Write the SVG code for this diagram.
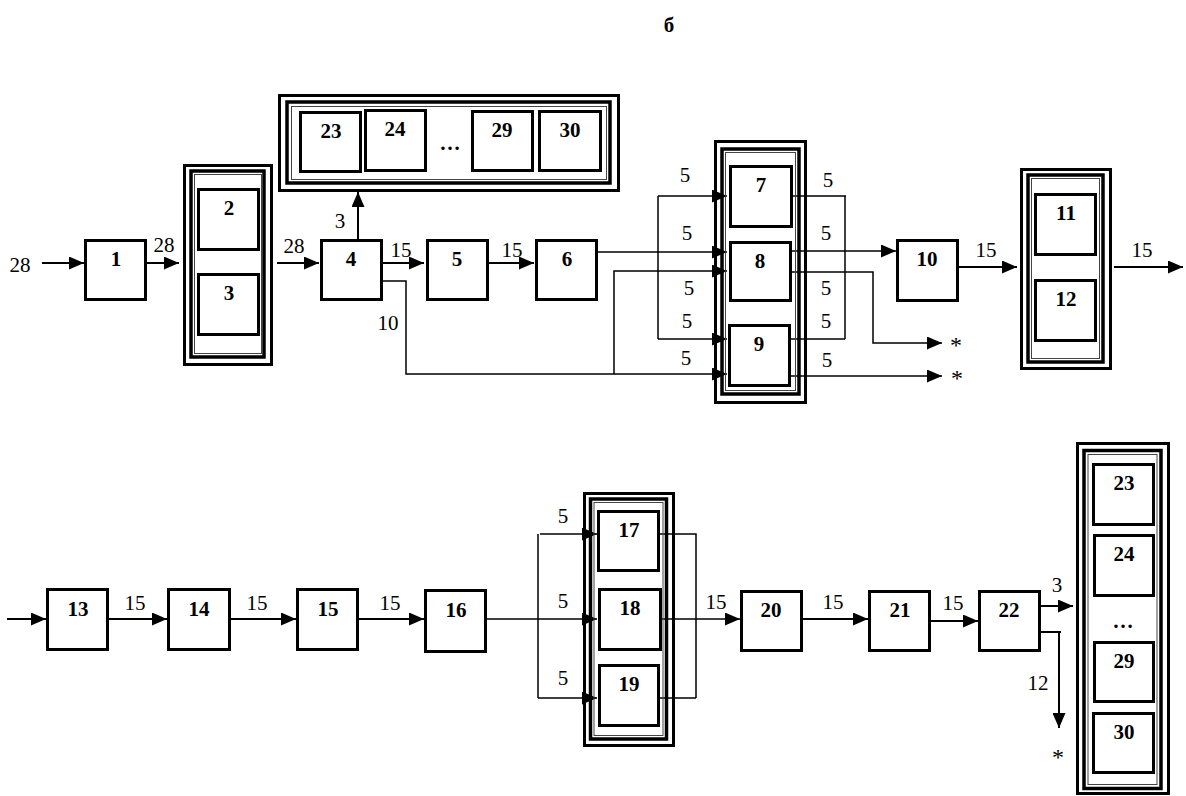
<svg xmlns="http://www.w3.org/2000/svg" width="1186" height="796" viewBox="0 0 1186 796">
<style>
.box{fill:#fff;stroke:#000;stroke-width:3}
.o{fill:none;stroke:#000;stroke-width:3}
.i{fill:none;stroke:#000;stroke-width:3.5}
.t{fill:none;stroke:#444;stroke-width:1}
.n{font-family:"Liberation Serif",serif;font-weight:bold;font-size:21px;text-anchor:middle;fill:#000}
.l{font-family:"Liberation Serif",serif;font-size:21px;text-anchor:middle;fill:#000}
.st{font-family:"Liberation Serif",serif;font-size:24px;text-anchor:middle;fill:#000}
.c{fill:none;stroke:#000;stroke-width:2}
.s{fill:none;stroke:#000;stroke-width:1.5}
</style>
<defs>
<marker id="a" viewBox="0 0 15 13" refX="15" refY="6.5" markerWidth="15" markerHeight="13" markerUnits="userSpaceOnUse" orient="auto"><path d="M0,0 L15,6.5 L0,13 z" fill="#000"/></marker>
</defs>
<text class="n" x="669" y="32">б</text>

<g id="connectors">
<path class="c" d="M42,263 H84" marker-end="url(#a)"/>
<path class="c" d="M147,263 H179" marker-end="url(#a)"/>
<path class="c" d="M277,263 H319" marker-end="url(#a)"/>
<path class="c" d="M358,239 V192" marker-end="url(#a)"/>
<path class="c" d="M383,263 H424" marker-end="url(#a)"/>
<path class="s" d="M383,281 H406 V374 H727" marker-end="url(#a)"/>
<path class="s" d="M614,374 V271 H727" marker-end="url(#a)"/>
<path class="c" d="M489,263 H534" marker-end="url(#a)"/>
<path class="s" d="M596,252 H727" marker-end="url(#a)"/>
<path class="s" d="M658,196 V339"/>
<path class="s" d="M658,196 H727" marker-end="url(#a)"/>
<path class="s" d="M658,339 H727" marker-end="url(#a)"/>
<path class="s" d="M793,196 H846 M845,196 V339"/>
<path class="s" d="M791,339 H845"/>
<path class="s" d="M792,251 H896" marker-end="url(#a)"/>
<path class="s" d="M792,272 H873 V343 H942" marker-end="url(#a)"/>
<path class="s" d="M791,376 H942" marker-end="url(#a)"/>
<path class="c" d="M957,267 H1017" marker-end="url(#a)"/>
<path class="c" d="M1114,267 H1183" marker-end="url(#a)"/>

<path class="c" d="M7,619 H46" marker-end="url(#a)"/>
<path class="c" d="M109,619 H167" marker-end="url(#a)"/>
<path class="c" d="M231,619 H296" marker-end="url(#a)"/>
<path class="c" d="M359,619 H424" marker-end="url(#a)"/>
<path class="s" d="M487,619 H597" marker-end="url(#a)"/>
<path class="s" d="M538,534 V698"/>
<path class="s" d="M540,534 H597" marker-end="url(#a)"/>
<path class="s" d="M538,698 H597" marker-end="url(#a)"/>
<path class="s" d="M656,534 H696 V698"/>
<path class="s" d="M660,698 H696"/>
<path class="s" d="M662,619 H740" marker-end="url(#a)"/>
<path class="c" d="M803,619 H868" marker-end="url(#a)"/>
<path class="c" d="M931,621 H978" marker-end="url(#a)"/>
<path class="c" d="M1041,606 H1073" marker-end="url(#a)"/>
<path class="c" d="M1041,632 H1061 M1059,632 V728" marker-end="url(#a)"/>
</g>

<g id="labels">
<text class="l" x="20" y="272">28</text>
<text class="l" x="164" y="252">28</text>
<text class="l" x="294" y="253">28</text>
<text class="l" x="340" y="228">3</text>
<text class="l" x="401" y="257">15</text>
<text class="l" x="388" y="330">10</text>
<text class="l" x="512" y="257">15</text>
<text class="l" x="685" y="182">5</text>
<text class="l" x="687" y="240">5</text>
<text class="l" x="689" y="295">5</text>
<text class="l" x="687" y="328">5</text>
<text class="l" x="686" y="365">5</text>
<text class="l" x="828" y="187">5</text>
<text class="l" x="826" y="240">5</text>
<text class="l" x="826" y="295">5</text>
<text class="l" x="826" y="328">5</text>
<text class="l" x="827" y="367">5</text>
<text class="st" x="956" y="353">*</text>
<text class="st" x="957" y="386">*</text>
<text class="l" x="986" y="257">15</text>
<text class="l" x="1142" y="257">15</text>
<text class="l" x="135" y="610">15</text>
<text class="l" x="257" y="610">15</text>
<text class="l" x="390" y="610">15</text>
<text class="l" x="563" y="523">5</text>
<text class="l" x="563" y="608">5</text>
<text class="l" x="563" y="685">5</text>
<text class="l" x="716" y="609">15</text>
<text class="l" x="833" y="609">15</text>
<text class="l" x="953" y="610">15</text>
<text class="l" x="1057" y="592">3</text>
<text class="l" x="1038" y="690">12</text>
<text class="st" x="1058" y="765">*</text>
</g>

<g id="n1"><rect class="box" x="85.5" y="240.5" width="60" height="59"/><text class="n" x="116" y="266">1</text></g>

<g id="g23h">
<rect class="o" x="279.5" y="95.5" width="339" height="95"/>
<rect class="i" x="287" y="102" width="323" height="81"/>
<rect class="t" x="291.5" y="106.5" width="315" height="73"/>
<g id="n23a"><rect class="box" x="300.5" y="112.5" width="60" height="59"/><text class="n" x="331" y="138">23</text></g>
<g id="n24a"><rect class="box" x="365.5" y="110.5" width="60" height="60"/><text class="n" x="395" y="136">24</text></g>
<text class="n" x="450" y="150">…</text>
<g id="n29a"><rect class="box" x="472.5" y="111.5" width="60" height="59"/><text class="n" x="502" y="137">29</text></g>
<g id="n30a"><rect class="box" x="539.5" y="111.5" width="61" height="59"/><text class="n" x="570" y="137">30</text></g>
</g>

<g id="g23">
<rect class="o" x="184.5" y="165.5" width="87" height="199"/>
<rect class="i" x="191" y="171" width="73" height="186"/>
<rect class="t" x="194.5" y="174.5" width="67" height="179"/>
<g id="n2"><rect class="box" x="198.5" y="189.5" width="60" height="60"/><text class="n" x="229" y="215">2</text></g>
<g id="n3"><rect class="box" x="198.5" y="274.5" width="60" height="60"/><text class="n" x="229" y="300">3</text></g>
</g>

<g id="n4"><rect class="box" x="321.5" y="240.5" width="60" height="59"/><text class="n" x="351" y="266">4</text></g>
<g id="n5"><rect class="box" x="427.5" y="240.5" width="60" height="59"/><text class="n" x="457" y="266">5</text></g>
<g id="n6"><rect class="box" x="536.5" y="240.5" width="60" height="59"/><text class="n" x="567" y="266">6</text></g>

<g id="g789">
<rect class="o" x="715.5" y="141.5" width="90" height="261"/>
<rect class="i" x="722" y="149" width="77" height="245"/>
<rect class="t" x="725.5" y="152.5" width="70" height="238"/>
<g id="n7"><rect class="box" x="730.5" y="166.5" width="61" height="60"/><text class="n" x="761" y="192">7</text></g>
<g id="n8"><rect class="box" x="730.5" y="242.5" width="60" height="58"/><text class="n" x="760" y="268">8</text></g>
<g id="n9"><rect class="box" x="729.5" y="325.5" width="60" height="60"/><text class="n" x="759" y="351">9</text></g>
</g>

<g id="n10"><rect class="box" x="897.5" y="240.5" width="60" height="60"/><text class="n" x="927" y="266">10</text></g>

<g id="g1112">
<rect class="o" x="1021.5" y="169.5" width="89" height="199"/>
<rect class="i" x="1028" y="175" width="75" height="187"/>
<rect class="t" x="1031.5" y="178.5" width="68" height="180"/>
<g id="n11"><rect class="box" x="1035.5" y="194.5" width="60" height="60"/><text class="n" x="1066" y="220">11</text></g>
<g id="n12"><rect class="box" x="1035.5" y="280.5" width="60" height="60"/><text class="n" x="1066" y="306">12</text></g>
</g>

<g id="n13"><rect class="box" x="47.5" y="589.5" width="60" height="60"/><text class="n" x="78" y="616">13</text></g>
<g id="n14"><rect class="box" x="168.5" y="589.5" width="61" height="60"/><text class="n" x="199" y="616">14</text></g>
<g id="n15"><rect class="box" x="297.5" y="589.5" width="60" height="60"/><text class="n" x="328" y="616">15</text></g>
<g id="n16"><rect class="box" x="425.5" y="590.5" width="60" height="61"/><text class="n" x="456" y="617">16</text></g>

<g id="g171819">
<rect class="o" x="584.5" y="493.5" width="89" height="252"/>
<rect class="i" x="590.5" y="499" width="76" height="240"/>
<rect class="t" x="594" y="502.5" width="69" height="233"/>
<g id="n17"><rect class="box" x="598.5" y="511.5" width="60" height="59"/><text class="n" x="629" y="537">17</text></g>
<g id="n18"><rect class="box" x="599.5" y="589.5" width="61" height="60"/><text class="n" x="630" y="615">18</text></g>
<g id="n19"><rect class="box" x="599.5" y="665.5" width="59" height="60"/><text class="n" x="629" y="691">19</text></g>
</g>

<g id="n20"><rect class="box" x="741.5" y="591.5" width="60" height="59"/><text class="n" x="771" y="617">20</text></g>
<g id="n21"><rect class="box" x="869.5" y="591.5" width="60" height="59"/><text class="n" x="900" y="617">21</text></g>
<g id="n22"><rect class="box" x="979.5" y="591.5" width="60" height="59"/><text class="n" x="1009" y="617">22</text></g>

<g id="g23v">
<rect class="o" x="1077.5" y="443.5" width="91" height="350"/>
<rect class="i" x="1084" y="450.5" width="77" height="338"/>
<rect class="t" x="1088" y="454.5" width="69" height="330"/>
<g id="n23b"><rect class="box" x="1093.5" y="464.5" width="60" height="60"/><text class="n" x="1124" y="490">23</text></g>
<g id="n24b"><rect class="box" x="1094.5" y="535.5" width="59" height="60"/><text class="n" x="1124" y="561">24</text></g>
<text class="n" x="1123" y="628">…</text>
<g id="n29b"><rect class="box" x="1094.5" y="642.5" width="59" height="59"/><text class="n" x="1124" y="668">29</text></g>
<g id="n30b"><rect class="box" x="1093.5" y="713.5" width="60" height="59"/><text class="n" x="1124" y="739">30</text></g>
</g>
</svg>
